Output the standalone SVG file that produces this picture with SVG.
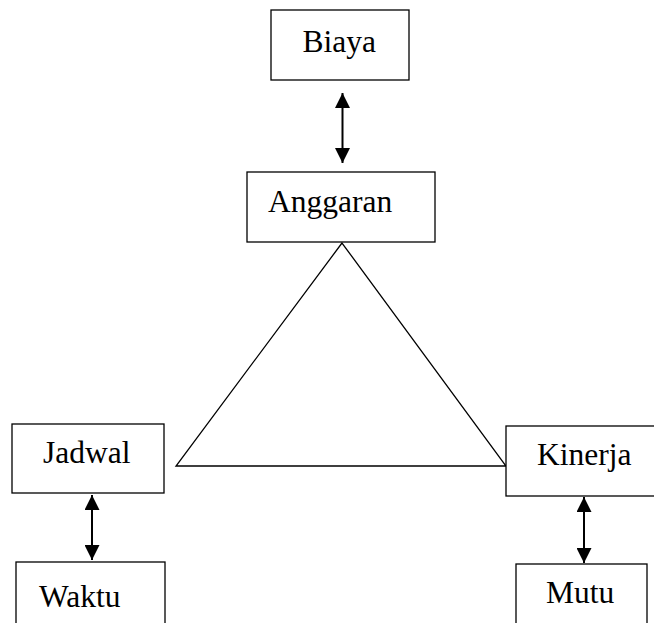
<svg xmlns="http://www.w3.org/2000/svg" width="654" height="623" viewBox="0 0 654 623">
<style>
.box{fill:#fff;stroke:#000;stroke-width:1.3}
.lbl{font-family:"Liberation Serif","Times New Roman",serif;font-size:31.5px;fill:#000}
.arr{stroke:#000;stroke-width:2;fill:none;marker-start:url(#ah);marker-end:url(#ah)}
</style>
<defs>
<marker id="ah" viewBox="0 0 10 10" refX="10" refY="5" markerWidth="15" markerHeight="15" markerUnits="userSpaceOnUse" orient="auto-start-reverse">
<path d="M0,0 L10,5 L0,10 Z" fill="#000"/>
</marker>
</defs>
<rect width="654" height="623" fill="#fff"/>
<g id="connectors">
<polygon points="342,243 176,466 506,466" fill="none" stroke="#000" stroke-width="1.3"/>
<line class="arr" x1="342.5" y1="93" x2="342.5" y2="163"/>
<line class="arr" x1="92" y1="495" x2="92" y2="560"/>
<line class="arr" x1="584" y1="497" x2="584" y2="563"/>
</g>
<g id="biaya"><rect class="box" x="271" y="10" width="138" height="70"/><text class="lbl" x="302.5" y="52">Biaya</text></g>
<g id="anggaran"><rect class="box" x="247" y="172" width="188" height="70"/><text class="lbl" x="268" y="212">Anggaran</text></g>
<g id="jadwal"><rect class="box" x="12" y="424" width="152" height="69"/><text class="lbl" x="43" y="463">Jadwal</text></g>
<g id="waktu"><rect class="box" x="16" y="562" width="149" height="80"/><text class="lbl" x="39" y="607">Waktu</text></g>
<g id="kinerja"><rect class="box" x="506" y="426" width="160" height="70"/><text class="lbl" x="537" y="465">Kinerja</text></g>
<g id="mutu"><rect class="box" x="516" y="564" width="131" height="80"/><text class="lbl" x="546" y="603">Mutu</text></g>
</svg>
